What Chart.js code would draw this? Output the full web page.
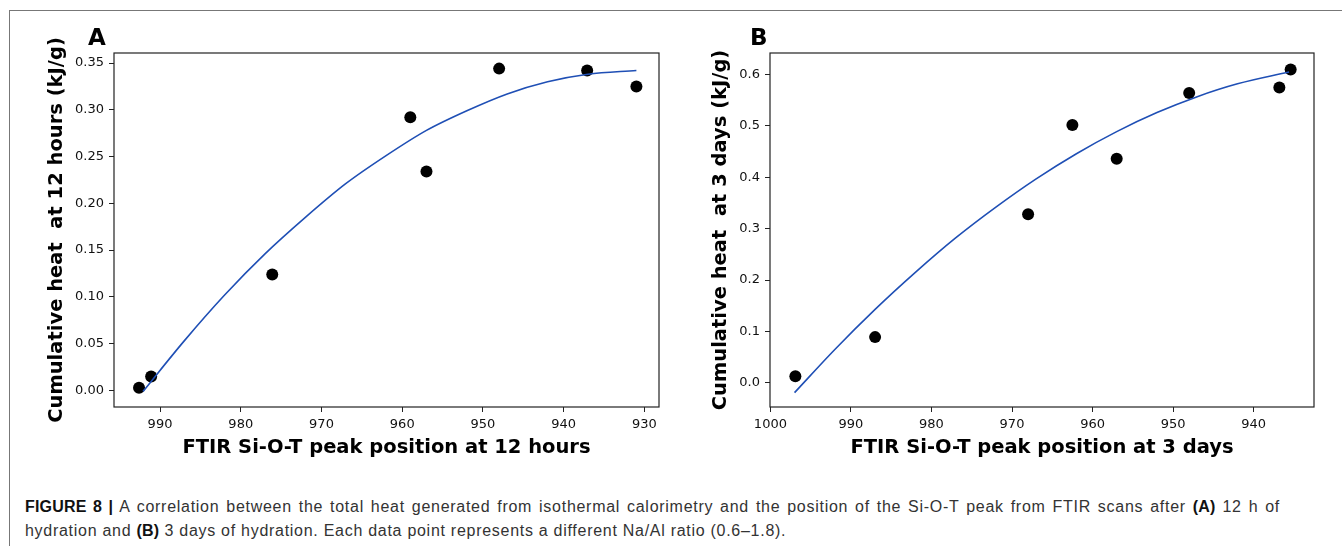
<!DOCTYPE html>
<html>
<head>
<meta charset="utf-8">
<title>Figure 8</title>
<script src="https://cdn.jsdelivr.net/npm/chart.js@4.4.0/dist/chart.umd.min.js"></script>
<style>
    body { margin: 0; background: #fff; width: 1342px; height: 546px; overflow: hidden; position: relative; }
    .frame { position: absolute; left: 9px; top: 10px; right: 0; bottom: 0; border-top: 1px solid #777; border-left: 1px solid #777; }
    canvas { position: absolute; top: 0; }
    #chart-a { left: 0; }
    #chart-b { left: 680px; }
    .panel-label { position: absolute; top: 26px; font: bold 23px "DejaVu Sans", sans-serif; line-height: 23px; color: #000; }
    .caption { position: absolute; left: 25px; top: 495px; font: 16px "Liberation Sans", Arial, sans-serif; line-height: 24px; color: #333; letter-spacing: 0.72px; white-space: nowrap; }
    .caption .l1 { width: 1255px; text-align: justify; text-align-last: justify; }
    .caption b { color: #111; letter-spacing: 0.2px; }
</style>
</head>
<body>
<div class="frame"></div>
<canvas id="chart-a" width="680" height="470"></canvas>
<canvas id="chart-b" width="662" height="470"></canvas>
<div class="panel-label" style="left:88px">A</div>
<div class="panel-label" style="left:750px">B</div>
<div class="caption">
    <div class="l1"><b>FIGURE 8 |</b> A correlation between the total heat generated from isothermal calorimetry and the position of the Si-O-T peak from FTIR scans after <b>(A)</b> 12 h of</div>
    <div>hydration and <b>(B)</b> 3 days of hydration. Each data point represents a different Na/Al ratio (0.6–1.8).</div>
</div>

<script>
// ===== DADOS =====

// painel A: 12 horas
const peakA = [992.6, 991.1, 976.1, 959.0, 957.0, 948.0, 937.1, 931.0];
const heatA = [0.003, 0.015, 0.124, 0.292, 0.234, 0.344, 0.342, 0.325];
const fitPeakA = [992.1, 987, 982, 977, 972, 967, 962, 957, 952, 947, 942, 937, 931];
const fitHeatA = [-0.001, 0.053, 0.102, 0.146, 0.185, 0.221, 0.251, 0.278, 0.299, 0.317, 0.330, 0.338, 0.342];
const xTicksA = [990, 980, 970, 960, 950, 940, 930];
const yTicksA = [0.00, 0.05, 0.10, 0.15, 0.20, 0.25, 0.30, 0.35];

// painel B: 3 dias
const peakB = [996.9, 987.0, 968.0, 962.5, 957.0, 948.0, 936.8, 935.4];
const heatB = [0.013, 0.089, 0.328, 0.502, 0.436, 0.564, 0.575, 0.610];
const fitPeakB = [997.0, 992, 987, 982, 977, 972, 967, 962, 957, 952, 947, 942, 935.6];
const fitHeatB = [-0.019, 0.065, 0.143, 0.215, 0.282, 0.342, 0.397, 0.446, 0.489, 0.526, 0.557, 0.582, 0.605];
const xTicksB = [1000, 990, 980, 970, 960, 950, 940];
const yTicksB = [0.0, 0.1, 0.2, 0.3, 0.4, 0.5, 0.6];

// ===== CONFIGURAÇÃO =====

const FONT = '"DejaVu Sans", sans-serif';
const LINE_COLOR = '#1f4fb5';

const toPoints = (xs, ys) => xs.map((x, i) => ({ x: x, y: ys[i] }));

// moldura completa em volta da área do gráfico (estilo matplotlib)
const framePlugin = {
    id: 'frame',
    afterDraw(chart) {
        const { ctx, chartArea: a } = chart;
        ctx.save();
        ctx.strokeStyle = '#222';
        ctx.lineWidth = 1.2;
        ctx.strokeRect(a.left, a.top, a.right - a.left, a.bottom - a.top);
        ctx.restore();
    }
};

const createPanel = (canvasId, opts) => {
    const titleFont = { family: FONT, size: 19.5, weight: 'bold' };
    const tickFont = { family: FONT, size: 13 };

    return new Chart(document.getElementById(canvasId), {
        type: 'scatter',
        data: {
            datasets: [
                {
                    label: 'fit',
                    data: toPoints(opts.fitX, opts.fitY),
                    showLine: true,
                    borderColor: LINE_COLOR,
                    borderWidth: 1.6,
                    pointRadius: 0,
                    cubicInterpolationMode: 'monotone',
                    fill: false
                },
                {
                    label: 'data',
                    data: toPoints(opts.x, opts.y),
                    showLine: false,
                    pointRadius: 6,
                    pointBackgroundColor: '#000',
                    pointBorderWidth: 0
                }
            ]
        },
        options: {
            responsive: false,
            animation: false,
            layout: { padding: { top: 53, right: opts.padRight, left: 0, bottom: 0 } },
            plugins: {
                legend: { display: false },
                tooltip: { enabled: false }
            },
            scales: {
                x: {
                    type: 'linear',
                    reverse: true,
                    min: opts.xMin,
                    max: opts.xMax,
                    border: { display: false },
                    grid: { drawOnChartArea: false, drawTicks: true, tickLength: 5, color: '#222' },
                    ticks: { font: tickFont, color: '#111', padding: 5, callback: v => v.toFixed(0) },
                    afterBuildTicks: s => { s.ticks = opts.xTicks.map(v => ({ value: v })); },
                    afterFit: s => { s.height = 63; },
                    title: { display: true, text: opts.xTitle, font: titleFont, color: '#000', padding: { top: 0, bottom: 10.3 } }
                },
                y: {
                    type: 'linear',
                    min: opts.yMin,
                    max: opts.yMax,
                    border: { display: false },
                    grid: { drawOnChartArea: false, drawTicks: true, tickLength: 5, color: '#222' },
                    ticks: { font: tickFont, color: '#111', padding: 5, callback: v => v.toFixed(opts.yDecimals) },
                    afterBuildTicks: s => { s.ticks = opts.yTicks.map(v => ({ value: v })); },
                    afterFit: s => { s.width = opts.yWidth; },
                    title: { display: true, text: opts.yTitle, font: titleFont, color: '#000', padding: { top: opts.yTitlePad, bottom: 0 } }
                }
            }
        },
        plugins: [framePlugin]
    });
};

createPanel('chart-a', {
    x: peakA, y: heatA, fitX: fitPeakA, fitY: fitHeatA,
    xTicks: xTicksA, yTicks: yTicksA, yDecimals: 2,
    xMin: 928.2, xMax: 995.7, yMin: -0.0177, yMax: 0.3607,
    yWidth: 114, padRight: 21, yTitlePad: 45.3,
    xTitle: 'FTIR Si-O-T peak position at 12 hours',
    yTitle: 'Cumulative heat  at 12 hours (kJ/g)'
});

createPanel('chart-b', {
    x: peakB, y: heatB, fitX: fitPeakB, fitY: fitHeatB,
    xTicks: xTicksB, yTicks: yTicksB, yDecimals: 1,
    xMin: 932.5, xMax: 1000.05, yMin: -0.047, yMax: 0.642,
    yWidth: 90, padRight: 28, yTitlePad: 29.3,
    xTitle: 'FTIR Si-O-T peak position at 3 days',
    yTitle: 'Cumulative heat  at 3 days (kJ/g)'
});
</script>
</body>
</html>
